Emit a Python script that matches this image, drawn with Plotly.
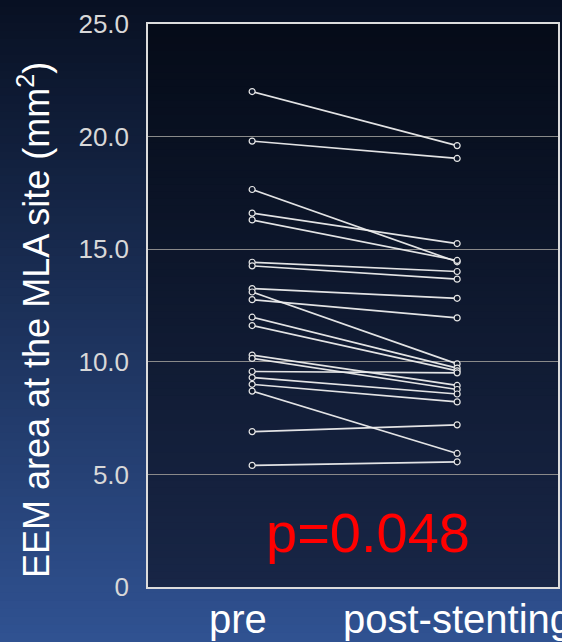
import plotly.graph_objects as go

# Paired EEM areas (mm^2) at the MLA site, one entry per lesion
categories = ["pre", "post-stenting"]
pre_values = [22.0, 19.8, 17.65, 16.6, 16.3, 14.42, 14.26, 13.25, 13.1, 12.76,
              11.98, 11.61, 10.3, 10.15, 9.57, 9.3, 9.0, 8.7, 6.9, 5.4]
post_values = [19.6, 19.03, 14.44, 15.25, 14.5, 14.01, 13.67, 12.82, 9.91, 11.95,
               9.72, 9.6, 8.95, 8.77, 9.51, 8.57, 8.22, 5.93, 7.2, 5.56]
y_ticks = [0, 5, 10, 15, 20, 25]
y_tick_labels = ["0", "5.0", "10.0", "15.0", "20.0", "25.0"]
p_label = "p=0.048"

W, H = 562, 642
M = dict(l=148, r=4, t=24, b=55)
plot_w = W - M["l"] - M["r"]
plot_h = H - M["t"] - M["b"]

FONT = "Liberation Sans, Arial, sans-serif"


def lerp(c0, c1, t):
    return "rgb(%d,%d,%d)" % tuple(round(a + (b - a) * t) for a, b in zip(c0, c1))


def gradient(x0, x1, y0, y1, top, bottom, n=80):
    """Vertical gradient made from thin stacked rectangles (paper coords)."""
    out = []
    for i in range(n):
        ya = y1 - (y1 - y0) * i / n
        yb = y1 - (y1 - y0) * (i + 1) / n
        out.append(dict(type="rect", xref="paper", yref="paper",
                        x0=x0, x1=x1, y0=yb, y1=ya + 0.002,
                        fillcolor=lerp(top, bottom, (i + 0.5) / n),
                        line=dict(width=0), layer="below"))
    return out


# whole-page backdrop, expressed in paper units of the plot area
px0 = -M["l"] / plot_w
px1 = (W - M["l"]) / plot_w
py0 = -M["b"] / plot_h
py1 = (H - M["b"]) / plot_h
shapes = gradient(px0, px1, py0, py1, (8, 16, 34), (48, 82, 146))
# darker panel inside the axes
shapes += gradient(0, 1, 0, 1, (5, 11, 24), (24, 38, 70))

# connect each pre value with its post-stenting value
xs, ys = [], []
for a, b in zip(pre_values, post_values):
    xs += [0, 1, None]
    ys += [a, b, None]

fig = go.Figure()
fig.add_trace(go.Scatter(
    x=xs, y=ys, mode="lines+markers",
    line=dict(color="rgba(238,238,238,0.95)", width=1.7),
    marker=dict(symbol="circle", size=6, color="#0d1629",
                line=dict(color="#e6e6e6", width=1.2)),
    hoverinfo="skip", showlegend=False,
))

# category labels under the panel (the long one runs off the right edge)
label_shift = [-14, 0]
label_anchor = ["center", "center"]
cat_labels = [
    dict(text=name, xref="x", yref="paper", x=i, y=-8 / plot_h,
         xanchor=label_anchor[i], yanchor="top", xshift=label_shift[i],
         showarrow=False, font=dict(family=FONT, size=40, color="white"))
    for i, name in enumerate(categories)
]

fig.update_layout(
    width=W, height=H, margin=dict(M, autoexpand=False),
    paper_bgcolor="rgba(0,0,0,0)", plot_bgcolor="rgba(0,0,0,0)",
    shapes=shapes,
    xaxis=dict(range=[-0.508, 1.492], showticklabels=False, automargin=False,
               showgrid=False, zeroline=False, ticks="",
               showline=True, linecolor="#dcdcdc", linewidth=1.5, mirror=True),
    yaxis=dict(range=[0, 25], tickvals=y_ticks, ticktext=y_tick_labels,
               automargin=False,
               showgrid=True, gridcolor="#8a8a8a", gridwidth=1,
               zeroline=False, ticks="",
               tickfont=dict(family=FONT, size=26, color="#d8d8d8"),
               ticklabelstandoff=12,
               showline=True, linecolor="#dcdcdc", linewidth=1.5, mirror=True),
    annotations=cat_labels + [
        dict(text="EEM area at the MLA site (mm<sup>2</sup>)", textangle=-90,
             xref="paper", yref="paper",
             x=(34 - M["l"]) / plot_w, y=(H - M["b"] - 320) / plot_h,
             xanchor="center", yanchor="middle", showarrow=False,
             font=dict(family=FONT, size=36, color="white")),
        dict(text=p_label, xref="paper", yref="y",
             x=(368 - M["l"]) / plot_w, y=2.4,
             xanchor="center", yanchor="middle", showarrow=False,
             font=dict(family=FONT, size=56, color="#ff0000")),
    ],
)

fig.write_html("out.html")
